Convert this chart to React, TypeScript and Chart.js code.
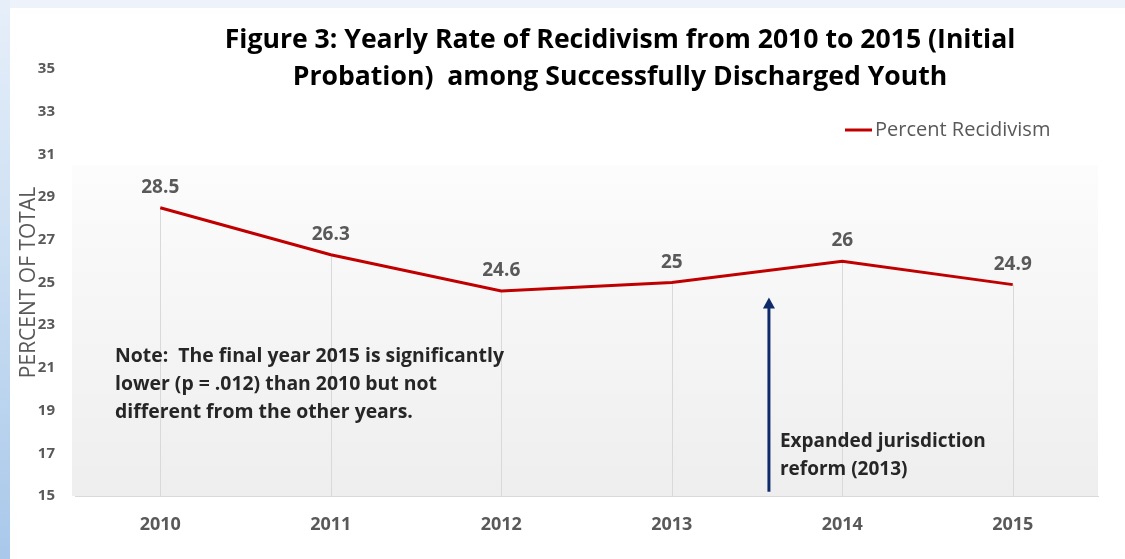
import React, { useEffect, useRef } from "react";
import { Chart, registerables } from "chart.js";

Chart.register(...registerables);

const categories = ["2010", "2011", "2012", "2013", "2014", "2015"];
const recidivism = [28.5, 26.3, 24.6, 25, 26, 24.9];
const yMin = 15;
const yMax = 35;
const yStep = 2;
const seriesName = "Percent Recidivism";
const yTitle = "PERCENT OF TOTAL";
const titleLines = [
  "Figure 3: Yearly Rate of Recidivism from 2010 to 2015 (Initial",
  "Probation)  among Successfully Discharged Youth",
];
const noteLines = [
  "Note:  The final year 2015 is significantly",
  "lower (p = .012) than 2010 but not",
  "different from the other years.",
];
const reformLines = ["Expanded jurisdiction", "reform (2013)"];
// arrow sits between 2013 (index 3) and 2014 (index 4)
const reformArrowIndex = 3;
const reformArrowFraction = 0.57;
const reformArrowFrom = 15.2;
const reformArrowTo = 24.3;
const plotFillTopValue = 30.5;

const FONT = "'Open Sans', sans-serif";

const overlayPlugin = {
  id: "overlay",
  beforeDraw(chart: any) {
    const { ctx, chartArea } = chart;
    const yScale = chart.scales.y;
    const top = yScale.getPixelForValue(plotFillTopValue);
    const g = ctx.createLinearGradient(0, top, 0, chartArea.bottom);
    g.addColorStop(0, "#fcfcfc");
    g.addColorStop(1, "#eeeeee");
    ctx.save();
    ctx.fillStyle = g;
    ctx.fillRect(chartArea.left - 3, top, chartArea.right - chartArea.left + 3, chartArea.bottom - top);
    ctx.restore();
  },
  beforeDatasetsDraw(chart: any) {
    const { ctx, chartArea } = chart;
    const meta = chart.getDatasetMeta(0);
    ctx.save();
    ctx.strokeStyle = "#d9d9d9";
    ctx.lineWidth = 1;
    meta.data.forEach((pt: any) => {
      const x = Math.round(pt.x) + 0.5;
      ctx.beginPath();
      ctx.moveTo(x, pt.y);
      ctx.lineTo(x, chartArea.bottom);
      ctx.stroke();
    });
    ctx.restore();
  },
  afterDatasetsDraw(chart: any) {
    const { ctx } = chart;
    const meta = chart.getDatasetMeta(0);
    const xScale = chart.scales.x;
    const yScale = chart.scales.y;
    ctx.save();

    // data labels
    ctx.fillStyle = "#595959";
    ctx.font = `bold 19px ${FONT}`;
    ctx.textAlign = "center";
    ctx.textBaseline = "alphabetic";
    meta.data.forEach((pt: any, i: number) => {
      ctx.fillText(String(recidivism[i]), pt.x, pt.y - 15);
    });

    // title
    ctx.fillStyle = "#000000";
    ctx.font = `bold 26.6px ${FONT}`;
    ctx.fillText(titleLines[0], 620, 48);
    ctx.fillText(titleLines[1], 620, 85);

    // legend
    ctx.strokeStyle = "#c00000";
    ctx.lineWidth = 3;
    ctx.beginPath();
    ctx.moveTo(845, 130);
    ctx.lineTo(872, 130);
    ctx.stroke();
    ctx.fillStyle = "#595959";
    ctx.font = `20px ${FONT}`;
    ctx.textAlign = "left";
    ctx.textBaseline = "middle";
    ctx.fillText(seriesName, 875, 130);

    // note
    ctx.fillStyle = "#262626";
    ctx.font = `bold 19.4px ${FONT}`;
    ctx.textBaseline = "alphabetic";
    noteLines.forEach((l, i) => ctx.fillText(l, 115, 362 + i * 28));

    // arrow
    const x0 = xScale.getPixelForValue(reformArrowIndex);
    const x1 = xScale.getPixelForValue(reformArrowIndex + 1);
    const ax = x0 + (x1 - x0) * reformArrowFraction;
    const yb = yScale.getPixelForValue(reformArrowFrom);
    const yt = yScale.getPixelForValue(reformArrowTo);
    ctx.strokeStyle = "#0f2a6b";
    ctx.fillStyle = "#0f2a6b";
    ctx.lineWidth = 3;
    ctx.beginPath();
    ctx.moveTo(ax, yb);
    ctx.lineTo(ax, yt + 8);
    ctx.stroke();
    ctx.beginPath();
    ctx.moveTo(ax, yt);
    ctx.lineTo(ax - 6, yt + 11);
    ctx.lineTo(ax + 6, yt + 11);
    ctx.closePath();
    ctx.fill();

    // reform text
    ctx.fillStyle = "#262626";
    ctx.font = `bold 19px ${FONT}`;
    reformLines.forEach((l, i) => ctx.fillText(l, ax + 11, 447 + i * 28));

    ctx.restore();
  },
};

export default function App() {
  const ref = useRef<HTMLCanvasElement | null>(null);
  useEffect(() => {
    if (!ref.current) return;
    const chart = new Chart(ref.current, {
      type: "line",
      data: {
        labels: categories,
        datasets: [
          {
            label: seriesName,
            data: recidivism,
            borderColor: "#c00000",
            backgroundColor: "#c00000",
            borderWidth: 3,
            pointRadius: 0,
            tension: 0,
            fill: false,
          },
        ],
      },
      options: {
        responsive: false,
        animation: false,
        devicePixelRatio: 1,
        layout: { padding: { top: 69, right: 27, bottom: 13, left: 0 } },
        plugins: {
          legend: { display: false },
          tooltip: { enabled: false },
          title: { display: false },
        },
        scales: {
          x: {
            type: "category",
            offset: true,
            grid: { display: false },
            border: { display: true, color: "#d9d9d9", width: 1 },
            ticks: {
              color: "#595959",
              font: { family: FONT, size: 18, weight: "bold" },
              padding: 10,
            },
            afterFit: (s: any) => {
              s.height = 50;
            },
          },
          y: {
            type: "linear",
            min: yMin,
            max: yMax,
            grid: { display: false },
            border: { display: false },
            ticks: {
              stepSize: yStep,
              color: "#595959",
              font: { family: FONT, size: 15, weight: "bold" },
              padding: 12,
            },
            title: {
              display: true,
              text: yTitle,
              color: "#595959",
              font: { family: FONT, size: 21 },
              padding: { top: 16, bottom: 0 },
            },
            afterFit: (s: any) => {
              s.width = 75;
            },
          },
        },
      },
      plugins: [overlayPlugin],
    });
    return () => chart.destroy();
  }, []);

  return (
    <div
      style={{
        position: "fixed",
        left: 0,
        top: 0,
        width: 1125,
        height: 559,
        background: "linear-gradient(180deg, #e6eff9 0%, #c9ddf2 50%, #a9c8ea 100%)",
        overflow: "hidden",
      }}
    >
      <div
        style={{
          position: "absolute",
          left: 10,
          top: 0,
          right: 0,
          height: 8,
          background: "#eef3fb",
        }}
      />
      <div
        style={{
          position: "absolute",
          left: 10,
          top: 8,
          right: 0,
          bottom: 0,
          background: "#ffffff",
        }}
      />
      <canvas
        ref={ref}
        width={1125}
        height={559}
        style={{ position: "absolute", left: 0, top: 0, width: 1125, height: 559 }}
      />
    </div>
  );
}
